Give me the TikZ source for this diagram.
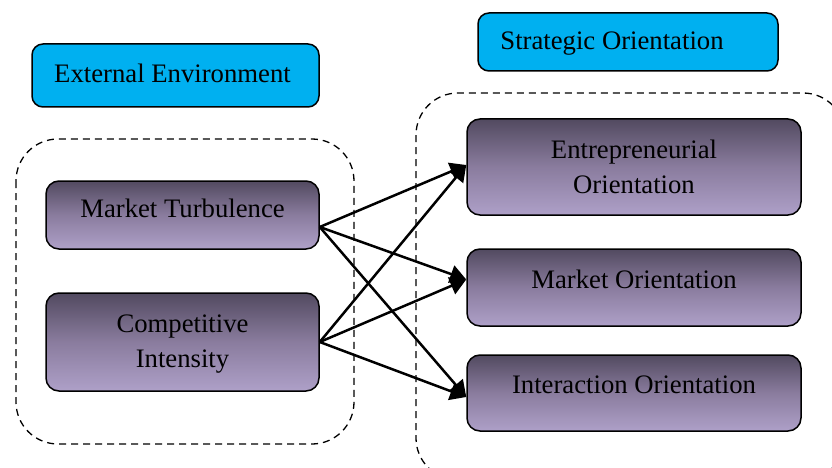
\documentclass[tikz,border=0pt]{standalone}
\usepackage{fontspec}
\setmainfont{Liberation Serif}
\usetikzlibrary{arrows.meta}
\definecolor{hdr}{HTML}{00B0F0}
\definecolor{gtop}{HTML}{524A60}
\definecolor{gmid}{HTML}{8A7C9E}
\definecolor{gbot}{HTML}{AEA0C8}
\tikzset{
  hdrbox/.style={draw=black, line width=1.5pt, rounded corners=11pt, fill=hdr},
  gbox/.style={draw=black, line width=1.5pt, rounded corners=13pt, top color=gtop, bottom color=gbot, middle color=gmid},
  txt/.style={font=\fontsize{26.7}{35}\selectfont, align=center, inner sep=0pt},
  grp/.style={draw=black, line width=1.3pt, dash pattern=on 7pt off 5pt, rounded corners=42pt},
  arr/.style={line width=2.5pt, -{Triangle[length=16pt,width=18pt]}}
}
\begin{document}
\begin{tikzpicture}[x=1pt,y=-1pt]
\useasboundingbox (0,0) rectangle (832,468);
% groups
\draw[grp] (16,139) rectangle (354,444);
\draw[grp] (416,93) rectangle (845,480);
% headers
\node[hdrbox, minimum width=287pt, minimum height=63pt] (ee) at (175.5,75.5) {};
\node[txt] (eet) at ([xshift=-3pt,yshift=2pt]ee.center) {External Environment};
\node[hdrbox, minimum width=300pt, minimum height=58pt] (so) at (628,42) {};
\node[txt] (sot) at ([xshift=-16pt,yshift=-2pt]so.center) {Strategic Orientation};
% left boxes
\node[gbox, minimum width=273pt, minimum height=68pt] (mt) at (182.5,215) {};
\node[txt] (mtt) at ([yshift=7pt]mt.center) {Market Turbulence};
\node[gbox, minimum width=273pt, minimum height=98pt] (ci) at (182.5,342) {};
\node[txt] (cit) at ([yshift=-2pt]ci.center) {Competitive\\Intensity};
% right boxes
\node[gbox, minimum width=334pt, minimum height=96pt] (eo) at (634,167) {};
\node[txt] (eot) at ([yshift=0pt]eo.center) {Entrepreneurial\\Orientation};
\node[gbox, minimum width=334pt, minimum height=77pt] (mo) at (634,287.5) {};
\node[txt] (mot) at ([yshift=8pt]mo.center) {Market Orientation};
\node[gbox, minimum width=334pt, minimum height=76pt] (io) at (634,393) {};
\node[txt] (iot) at ([yshift=8pt]io.center) {Interaction Orientation};
% connector anchors
\coordinate (mts) at ([yshift=-12pt]mt.east);
\coordinate (cis) at (ci.east);
\coordinate (eoe) at ([yshift=2pt]eo.west);
\coordinate (moe) at ([yshift=8pt]mo.west);
\coordinate (ioe) at ([yshift=-4pt]io.west);
\draw[arr] (mts) -- (eoe);
\draw[arr] (mts) -- (moe);
\draw[arr] (mts) -- (ioe);
\draw[arr] (cis) -- (eoe);
\draw[arr] (cis) -- (moe);
\draw[arr] (cis) -- (ioe);
\end{tikzpicture}
\end{document}
